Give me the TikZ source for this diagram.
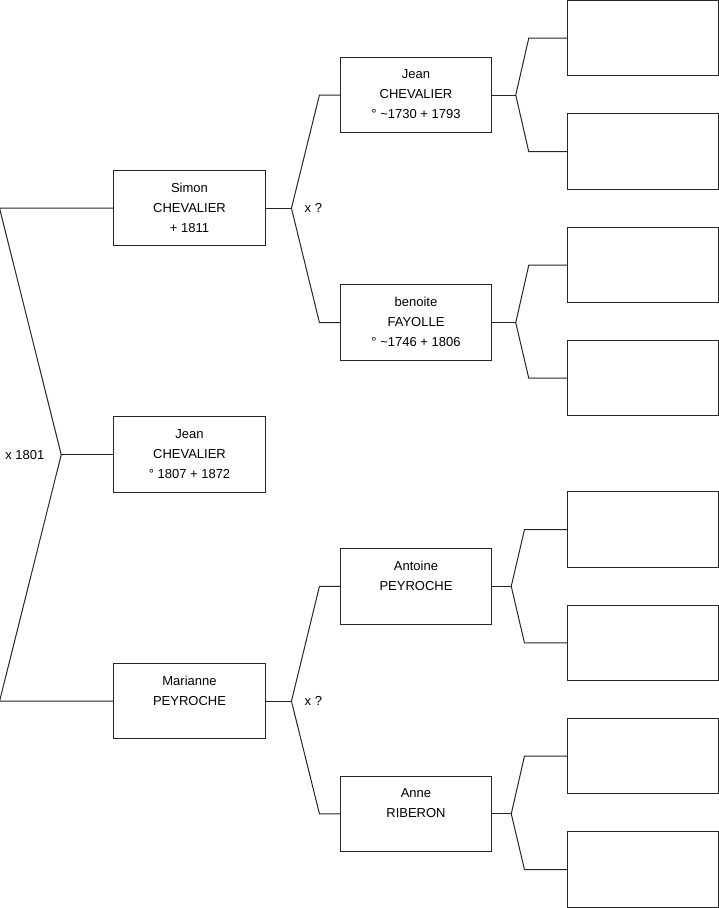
\documentclass[tikz,border=0pt]{standalone}
\usepackage{fontspec}
\setmainfont{Liberation Sans}
\usetikzlibrary{positioning, calc}
\newcommand{\tailstrut}{\rule[-1pt]{0pt}{1pt}}

\begin{document}
\begin{tikzpicture}[
    x=1pt, y=-1pt,
    font=\fontsize{13}{20}\selectfont,
    person/.style={rectangle, draw=black!85, line width=1pt, minimum width=151.5pt, minimum height=75.5pt, inner sep=0pt, align=center},
    ancestor/.style={person},
    link/.style={draw=black!85, line width=1pt},
    union/.style={inner sep=0pt},
]
    \useasboundingbox (0,0) rectangle (719,908);

    % Child and parents
    \node[person] (simon) at (189.5,208.2) {Simon\\CHEVALIER\\+ 1811\tailstrut};
    \node[person, below=170pt of simon] (jean) {Jean\\CHEVALIER\\° 1807 + 1872\tailstrut};
    \node[person, below=170pt of jean] (marianne) {Marianne\\PEYROCHE\\\tailstrut};

    % Grandparents
    \node[person] (jeanc) at (416,95) {Jean\\CHEVALIER\\° \textasciitilde1730 + 1793\tailstrut};
    \node[person, below=151.2pt of jeanc] (benoite) {benoite\\FAYOLLE\\° \textasciitilde1746 + 1806\tailstrut};
    \node[person] (antoine) at (416,586.3) {Antoine\\PEYROCHE\\\tailstrut};
    \node[person, below=151pt of antoine] (anne) {Anne\\RIBERON\\\tailstrut};

    % Great-grandparents (unknown)
    \foreach \i/\y in {1/38.2, 2/151.7, 3/265.2, 4/378.2, 5/529.7, 6/642.8, 7/756.2, 8/869.5}
        \node[ancestor] (a\i) at (643,\y) {};

    % Parents' marriage
    \coordinate (wed) at ([xshift=-52pt]jean.west);
    \draw[link] (simon.west) -- ++(-113.7,0) -- (wed) -- ([xshift=-113.7pt]marianne.west) -- (marianne.west);
    \draw[link] (wed) -- (jean.west);
    \node[union, left=16.7pt of wed] (x1801) {x 1801};

    % Older generations
    \foreach \p/\f/\m/\jx/\ex in {simon/jeanc/benoite/25.7/20.3, marianne/antoine/anne/25.7/20.3,
        jeanc/a1/a2/23.5/38, benoite/a3/a4/23.5/38, antoine/a5/a6/19/42.3, anne/a7/a8/19/42.3} {
        \coordinate (j-\p) at ([xshift=\jx pt]\p.east);
        \draw[link] (\p.east) -- (j-\p);
        \draw[link] (\f.west) -- ++(-\ex,0) -- (j-\p) -- ([xshift=-\ex pt]\m.west) -- (\m.west);
    }
    \node[union, right=13pt of j-simon] (xsimon) {x ?};
    \node[union, right=13pt of j-marianne] (xmarianne) {x ?};
\end{tikzpicture}
\end{document}
